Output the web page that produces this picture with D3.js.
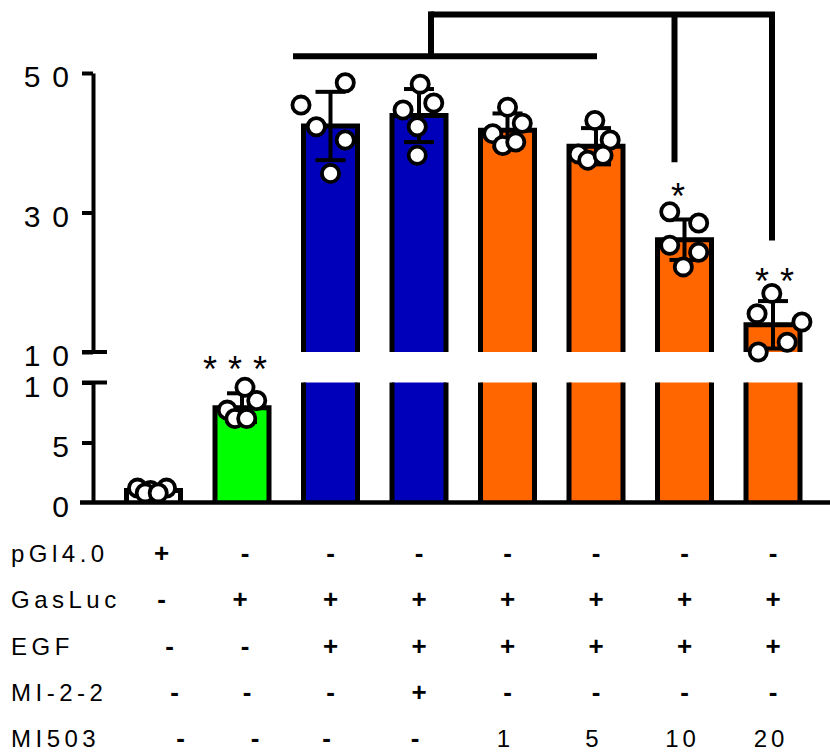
<!DOCTYPE html>
<html><head><meta charset="utf-8">
<script src="https://cdn.jsdelivr.net/npm/d3@7/dist/d3.min.js"></script>
<style>
body{margin:0;background:#fff;}
svg{display:block;font-family:"Liberation Sans",Arial,sans-serif;}
</style>
</head><body>
<svg id="chart" width="830" height="755"></svg>
<script>
// ---------------- data ----------------
const groups = ["pGl4.0", "GasLuc", "EGF", "EGF+MI-2-2", "MI503 1", "MI503 5", "MI503 10", "MI503 20"];
const means  = [1.0, 7.9, 42.4, 43.9, 41.8, 39.5, 26.1, 13.9];
const sds    = [0.2, 1.2, 4.9, 3.8, 2.4, 2.6, 2.9, 3.4];
const barColors = ["#FFFFFF", "#00FF00", "#0000BB", "#0000BB", "#FF6600", "#FF6600", "#FF6600", "#FF6600"];
const points = [
  [1.2, 1.2, 1.0, 0.8, 0.8],
  [9.6, 8.5, 7.7, 7.0, 7.0],
  [48.6, 45.4, 42.3, 40.4, 35.6],
  [48.4, 44.7, 45.7, 42.3, 38.2],
  [45.1, 42.8, 41.3, 39.6, 40.1],
  [43.2, 40.4, 38.4, 37.5, 38.2],
  [30.1, 28.5, 25.3, 24.3, 22.2],
  [18.4, 15.5, 14.3, 11.4, 10.0]
];
// horizontal jitter of the dots, as a fraction of bar width
const jitter = [
  [-0.27, 0.22, -0.05, -0.14, 0.08],
  [0.05, 0.25, -0.25, -0.12, 0.08],
  [0.25, -0.50, -0.24, 0.25, 0.00],
  [0.02, -0.27, 0.25, -0.03, -0.03],
  [0.00, 0.25, -0.25, -0.08, 0.14],
  [-0.02, 0.24, -0.30, -0.14, 0.12],
  [-0.25, 0.24, -0.25, 0.24, -0.02],
  [-0.02, -0.27, 0.49, 0.24, -0.25]
];
const upperTicks = [10, 30, 50];
const lowerTicks = [0, 5, 10];
const stars = ["", "***", "", "", "", "", "*", "**"];
const starLevel = [0, 11.6, 0, 0, 0, 0, 33.2, 21.0];   // value at the star's centre, in its segment's scale
const rowNames = ["pGl4.0", "GasLuc", "EGF", "MI-2-2", "MI503"];
const rowValues = [
  ["+", "-", "-", "-", "-", "-", "-", "-"],
  ["-", "+", "+", "+", "+", "+", "+", "+"],
  ["-", "-", "+", "+", "+", "+", "+", "+"],
  ["-", "-", "-", "+", "-", "-", "-", "-"],
  ["-", "-", "-", "-", "1", "5", "10", "20"]
];

// ---------------- layout ----------------
const svg = d3.select("#chart");
const axisX = 93;
const barW = 54;
const x = d3.scalePoint().domain(groups).range([153.5, 773]);
const yU = d3.scaleLinear().domain([10, 50]).range([352, 73]);
const yL = d3.scaleLinear().domain([0, 10]).range([502.5, 382.5]);
const ink = "#000";
const cx = i => x(groups[i]);
const segOf = i => (means[i] < 10 ? yL : yU);

// ---------------- bars ----------------
const gBars = svg.append("g");
means.forEach((m, i) => {
  const x0 = cx(i) - barW / 2, x1 = cx(i) + barW / 2;
  if (m < 10) {
    gBars.append("rect").attr("x", x0).attr("y", yL(m)).attr("width", barW)
      .attr("height", yL(0) - yL(m)).attr("fill", barColors[i]);
    gBars.append("path").attr("d", `M${x0},${yL(0)}V${yL(m)}H${x1}V${yL(0)}`)
      .attr("fill", "none").attr("stroke", ink).attr("stroke-width", 5);
  } else {
    gBars.append("rect").attr("x", x0).attr("y", yU(m)).attr("width", barW)
      .attr("height", yU(10) - yU(m)).attr("fill", barColors[i]);
    gBars.append("path").attr("d", `M${x0},${yU(10)}V${yU(m)}H${x1}V${yU(10)}`)
      .attr("fill", "none").attr("stroke", ink).attr("stroke-width", 5);
    gBars.append("rect").attr("x", x0).attr("y", yL(10)).attr("width", barW)
      .attr("height", yL(0) - yL(10)).attr("fill", barColors[i]);
    gBars.append("path").attr("d", `M${x0},${yL(10)}V${yL(0)}M${x1},${yL(10)}V${yL(0)}`)
      .attr("fill", "none").attr("stroke", ink).attr("stroke-width", 5);
  }
});

// ---------------- error bars ----------------
const gErr = svg.append("g").attr("stroke", ink).attr("stroke-width", 4).attr("fill", "none");
means.forEach((m, i) => {
  const s = segOf(i);
  const c = cx(i), hi = s(m + sds[i]), lo = s(m - sds[i]);
  gErr.append("line").attr("x1", c).attr("x2", c).attr("y1", hi).attr("y2", lo);
  gErr.append("line").attr("x1", c - 15).attr("x2", c + 15).attr("y1", hi).attr("y2", hi);
  gErr.append("line").attr("x1", c - 15).attr("x2", c + 15).attr("y1", lo).attr("y2", lo);
});

// ---------------- dots ----------------
const gDots = svg.append("g");
points.forEach((arr, i) => {
  const s = segOf(i);
  arr.forEach((v, k) => {
    gDots.append("circle").attr("cx", cx(i) + jitter[i][k] * 59).attr("cy", s(v))
      .attr("r", 8.6).attr("fill", "#fff").attr("stroke", ink).attr("stroke-width", 3.8);
  });
});

// ---------------- axes ----------------
function styleAxis(g) {
  g.select(".domain").attr("stroke", ink).attr("stroke-width", 4);
  g.selectAll(".tick line").attr("stroke", ink).attr("stroke-width", 4);
  g.selectAll(".tick text").attr("fill", ink).attr("font-size", 30)
    .attr("letter-spacing", "12px").attr("dy", "0.45em")
    .attr("font-family", "'Liberation Sans', Arial, sans-serif");
}
const axU = svg.append("g").attr("transform", `translate(${axisX},0)`)
  .call(d3.axisLeft(yU).tickValues(upperTicks).tickSize(11).tickSizeOuter(0).tickPadding(1).tickFormat(d3.format("d")));
styleAxis(axU);
const axL = svg.append("g").attr("transform", `translate(${axisX},0)`)
  .call(d3.axisLeft(yL).tickValues(lowerTicks).tickSize(11).tickSizeOuter(0).tickPadding(1).tickFormat(d3.format("d")));
styleAxis(axL);
axL.selectAll(".tick").filter(d => d === 0).select("line").remove();
// break marks: the 10 ticks reach across the axis
[yU(10), yL(10)].forEach(yy => {
  svg.append("line").attr("x1", axisX - 11).attr("x2", axisX + 14).attr("y1", yy).attr("y2", yy)
    .attr("stroke", ink).attr("stroke-width", 4);
});
// baseline
svg.append("line").attr("x1", 80).attr("x2", 830).attr("y1", yL(0)).attr("y2", yL(0))
  .attr("stroke", ink).attr("stroke-width", 4.5);

// ---------------- significance ----------------
const gSig = svg.append("g").attr("fill", ink).attr("font-size", 36);
const starShift = [0, -7, 0, 0, 0, 0, -6.5, 1.5];
stars.forEach((lab, i) => {
  if (!lab) return;
  const s = i < 2 ? yL : yU;
  const n = lab.length, step = 25;
  for (let k = 0; k < n; k++) {
    gSig.append("text").attr("x", cx(i) + starShift[i] + (k - (n - 1) / 2) * step)
      .attr("y", s(starLevel[i]) + 19)
      .attr("text-anchor", "middle").text(lab[k]);
  }
});
const gBr = svg.append("g").attr("stroke", ink).attr("stroke-width", 6).attr("fill", "none");
const yLow = yU(52.4), yTop = yU(58.4);
gBr.append("line").attr("x1", cx(2) - 37.5).attr("x2", cx(5) + 1).attr("y1", yLow).attr("y2", yLow);
gBr.append("line").attr("x1", cx(3) + 12).attr("x2", cx(3) + 12).attr("y1", yLow).attr("y2", yTop - 3);
gBr.append("line").attr("x1", cx(3) + 12).attr("x2", cx(7) + 2).attr("y1", yTop).attr("y2", yTop);
gBr.append("line").attr("x1", cx(6) - 10).attr("x2", cx(6) - 10).attr("y1", yTop).attr("y2", yU(37.2));
gBr.append("line").attr("x1", cx(7) - 1).attr("x2", cx(7) - 1).attr("y1", yTop).attr("y2", yU(26.0));

// ---------------- condition table ----------------
const rowBase = [562, 608, 655, 701, 747];
const firstShift = [[8, 3], [8, -2], [16, 3], [21, 5], [27, 13]];
const gTab = svg.append("g").attr("fill", ink);
rowNames.forEach((nm, r) => {
  gTab.append("text").attr("x", 11).attr("y", rowBase[r]).attr("font-size", 24)
    .attr("letter-spacing", "4.5px").text(nm);
  rowValues[r].forEach((v, c) => {
    const sign = (v === "+" || v === "-");
    const dx = c < 2 ? firstShift[r][c] : (r === 4 ? -4 : 0);
    gTab.append("text").attr("x", cx(c) + dx + (sign ? 0 : 2)).attr("y", rowBase[r])
      .attr("text-anchor", "middle")
      .attr("font-size", sign ? 26 : 24)
      .attr("font-weight", sign ? "bold" : "normal")
      .attr("letter-spacing", sign ? "0px" : "4px")
      .text(v);
  });
});
</script>
</body></html>
